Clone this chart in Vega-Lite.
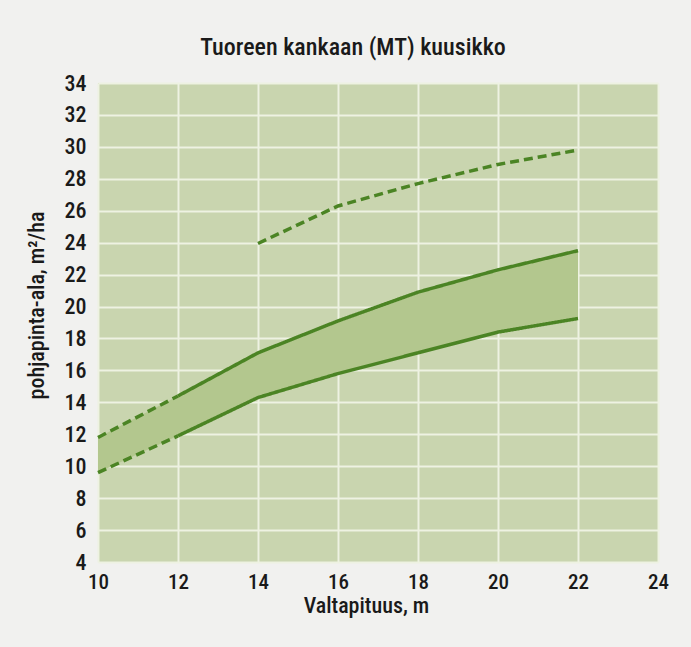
{
  "$schema": "https://vega.github.io/schema/vega-lite/v6.json",
  "autosize": {"type": "none"},
  "width": 560,
  "height": 479,
  "padding": {"left": 98, "top": 83, "right": 33, "bottom": 85},
  "background": "#f1f1ef",
  "title": {
    "text": "Tuoreen kankaan (MT) kuusikko",
    "fontSize": 24,
    "font": "Roboto Condensed, Roboto",
    "fontWeight": 500,
    "color": "#1a1a1a",
    "offset": 12,
    "dx": -25
  },
  "config": {
    "view": {"stroke": null, "fill": "#c9d5af"},
    "axis": {
      "domain": false,
      "ticks": false,
      "grid": true,
      "gridColor": "#eef2e2",
      "gridWidth": 2,
      "gridOpacity": 1,
      "labelFont": "Roboto Condensed, Roboto",
      "labelFontSize": 22,
      "labelFontWeight": 500,
      "labelColor": "#1a1a1a",
      "labelOverlap": false,
      "labelFlush": false,
      "labelBound": false,
      "titleFont": "Roboto Condensed, Roboto",
      "titleFontSize": 22,
      "titleFontWeight": 500,
      "titleColor": "#1a1a1a"
    }
  },
  "datasets": {
    "band": [
      {"x": 10, "lo": 9.6, "hi": 11.8},
      {"x": 12, "lo": 11.9, "hi": 14.4},
      {"x": 14, "lo": 14.3, "hi": 17.1},
      {"x": 16, "lo": 15.8, "hi": 19.1},
      {"x": 18, "lo": 17.1, "hi": 20.9},
      {"x": 20, "lo": 18.4, "hi": 22.3},
      {"x": 22, "lo": 19.25, "hi": 23.5}
    ],
    "lines": [
      {"series": "upper_dash", "dash": "dashed", "x": 10, "y": 11.8},
      {"series": "upper_dash", "dash": "dashed", "x": 12, "y": 14.4},
      {"series": "lower_dash", "dash": "dashed", "x": 10, "y": 9.6},
      {"series": "lower_dash", "dash": "dashed", "x": 12, "y": 11.9},
      {"series": "upper", "dash": "solid", "x": 12, "y": 14.4},
      {"series": "upper", "dash": "solid", "x": 14, "y": 17.1},
      {"series": "upper", "dash": "solid", "x": 16, "y": 19.1},
      {"series": "upper", "dash": "solid", "x": 18, "y": 20.9},
      {"series": "upper", "dash": "solid", "x": 20, "y": 22.3},
      {"series": "upper", "dash": "solid", "x": 22, "y": 23.5},
      {"series": "lower", "dash": "solid", "x": 12, "y": 11.9},
      {"series": "lower", "dash": "solid", "x": 14, "y": 14.3},
      {"series": "lower", "dash": "solid", "x": 16, "y": 15.8},
      {"series": "lower", "dash": "solid", "x": 18, "y": 17.1},
      {"series": "lower", "dash": "solid", "x": 20, "y": 18.4},
      {"series": "lower", "dash": "solid", "x": 22, "y": 19.25},
      {"series": "top", "dash": "dashed", "x": 14, "y": 23.95},
      {"series": "top", "dash": "dashed", "x": 16, "y": 26.3},
      {"series": "top", "dash": "dashed", "x": 18, "y": 27.7},
      {"series": "top", "dash": "dashed", "x": 20, "y": 28.9},
      {"series": "top", "dash": "dashed", "x": 22, "y": 29.8}
    ]
  },
  "layer": [
    {
      "data": {"name": "band"},
      "mark": {"type": "area", "color": "#b3c78e", "opacity": 1},
      "encoding": {
        "x": {
          "field": "x", "type": "quantitative",
          "scale": {"domain": [10, 24], "nice": false, "zero": false},
          "axis": {
            "values": [10, 12, 14, 16, 18, 20, 22, 24],
            "title": "Valtapituus, m",
            "labelFontSize": 21,
            "labelPadding": 9,
            "titlePadding": 3,
            "titleX": 268
          }
        },
        "y": {
          "field": "lo", "type": "quantitative",
          "scale": {"domain": [4, 34], "nice": false, "zero": false},
          "axis": {
            "values": [4, 6, 8, 10, 12, 14, 16, 18, 20, 22, 24, 26, 28, 30, 32, 34],
            "tickCount": 16,
            "labelOverlap": false,
            "title": "pohjapinta-ala, m²/ha",
            "labelPadding": 12,
            "titlePadding": 16,
            "titleY": 222
          }
        },
        "y2": {"field": "hi"}
      }
    },
    {
      "data": {"name": "lines"},
      "mark": {"type": "line", "color": "#4b8424", "strokeWidth": 3.5},
      "encoding": {
        "x": {"field": "x", "type": "quantitative"},
        "y": {
          "field": "y", "type": "quantitative",
          "axis": {
            "values": [4, 6, 8, 10, 12, 14, 16, 18, 20, 22, 24, 26, 28, 30, 32, 34],
            "tickCount": 16,
            "labelOverlap": false,
            "title": "pohjapinta-ala, m²/ha",
            "labelPadding": 12,
            "titlePadding": 16,
            "titleY": 222
          }
        },
        "detail": {"field": "series"},
        "strokeDash": {
          "field": "dash", "type": "nominal",
          "scale": {"domain": ["solid", "dashed"], "range": [[1, 0], [9, 5]]},
          "legend": null
        }
      }
    }
  ]
}
